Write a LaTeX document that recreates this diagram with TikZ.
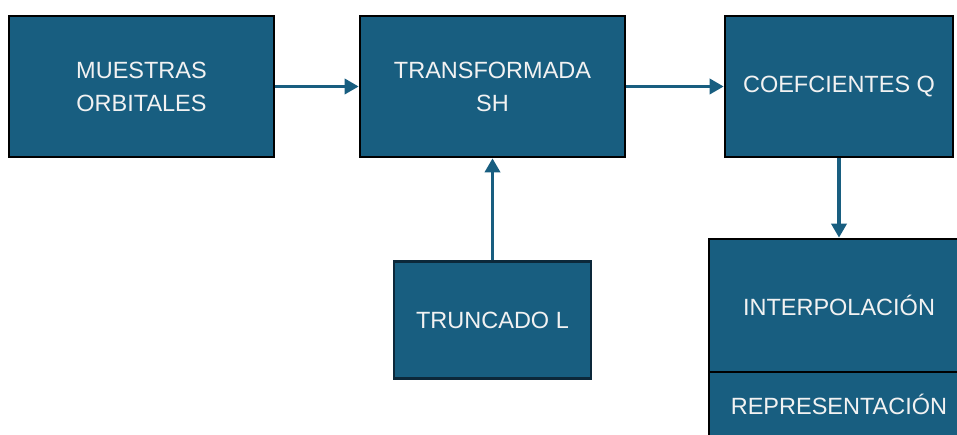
\documentclass[tikz,border=0pt]{standalone}
\usepackage{fontspec}
\setmainfont{Liberation Sans}
\usetikzlibrary{arrows.meta}
\definecolor{boxblue}{RGB}{24,94,128}
\definecolor{navyedge}{RGB}{12,40,58}
\definecolor{txt}{RGB}{242,242,242}
\tikzset{
  blk/.style={draw=black, line width=2.6pt, fill=boxblue, text=txt, align=center,
    font=\fontsize{23.5}{33}\selectfont, inner sep=0pt},
  conn/.style={draw=boxblue, line width=3.4pt, -{Triangle[length=14pt,width=15pt]}}
}
\begin{document}
\begin{tikzpicture}[x=1pt,y=-1pt]
\useasboundingbox (0,0) rectangle (957,435);
\clip (0,0) rectangle (957,435);
\node[blk, minimum width=265pt, minimum height=141pt] (mo) at (141.5,86.5) {MUESTRAS\\ORBITALES};
\node[blk, minimum width=265pt, minimum height=141pt] (ts) at (492.5,86.5) {TRANSFORMADA\\SH};
\node[blk, minimum width=228pt, minimum height=141pt] (cq) at (839,86.5) {COEFCIENTES Q};
\node[blk, draw=navyedge, line width=2.2pt, minimum width=197pt, minimum height=117pt] (tl) at (492.5,320) {TRUNCADO L};
\node[blk, minimum width=260pt, minimum height=133pt] (ip) at (839,305.5) {INTERPOLACIÓN};
\node[blk, minimum width=260pt, minimum height=64pt, anchor=north] (rp) at ([yshift=2.6pt]ip.south) {REPRESENTACIÓN};
\draw[conn] (mo.east) -- (ts.west);
\draw[conn] (ts.east) -- (cq.west);
\draw[conn] (tl.north) -- (ts.south);
\draw[conn] (cq.south) -- (cq.south |- ip.north);
\end{tikzpicture}
\end{document}
